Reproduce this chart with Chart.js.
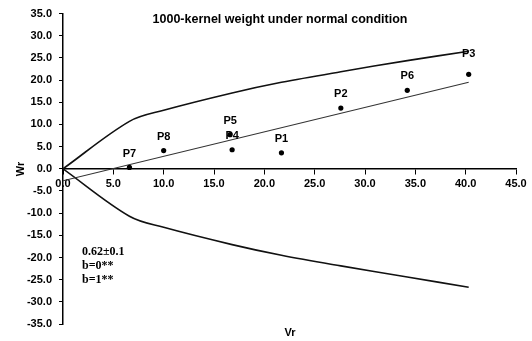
<!DOCTYPE html>
<html>
<head>
<meta charset="utf-8">
<script src="https://cdn.jsdelivr.net/npm/chart.js@4/dist/chart.umd.min.js"></script>
<style>
html,body{margin:0;padding:0;background:#fff;}
#wrap{width:532px;height:341px;position:relative;}
</style>
</head>
<body>
<div id="wrap"><canvas id="c" width="532" height="341"></canvas></div>
<script>
// Parents (points)
const parentNames = ['P1','P2','P3','P4','P5','P6','P7','P8'];
const parentVr    = [21.7, 27.6, 40.3, 16.8, 16.6, 34.2, 6.6, 10.0];
const parentWr    = [3.6, 13.7, 21.3, 4.3, 7.7, 17.7, 0.3, 4.1];

// Regression line
const regVr = [0, 40.3];
const regWr = [-2.7, 19.5];

// Limiting parabola (upper and lower branches)
const parabolaVr    = [0, 6.6, 10.0, 16.8, 21.7, 27.6, 34.2, 40.3];
const parabolaUpper = [0, 10.7, 13.2, 17.1, 19.5, 21.9, 24.4, 26.5];
const parabolaLower = [0, -10.7, -13.2, -17.1, -19.5, -21.9, -24.4, -26.7];

// Axis tick labels
const xTickLabels = ['0.0','5.0','10.0','15.0','20.0','25.0','30.0','35.0','40.0','45.0'];
const yTickLabels = ['-35.0','-30.0','-25.0','-20.0','-15.0','-10.0','-5.0','0.0','5.0','10.0','15.0','20.0','25.0','30.0','35.0'];

const chartTitle = '1000-kernel weight under normal condition';
const xTitle = 'Vr';
const yTitle = 'Wr';
const notes = ['0.62\u00b10.1', 'b=0**', 'b=1**'];

const zip = (xs, ys) => xs.map((x, i) => ({x: x, y: ys[i]}));

const sansBold = 'bold 11px "Liberation Sans", Arial, sans-serif';

const textPlugin = {
  id: 'texts',
  afterDatasetsDraw(chart) {
    const ctx = chart.ctx;
    ctx.save();
    // point labels
    const meta = chart.getDatasetMeta(0);
    ctx.fillStyle = '#000';
    ctx.font = sansBold;
    ctx.textAlign = 'center';
    ctx.textBaseline = 'middle';
    meta.data.forEach((pt, i) => {
      const off = parentNames[i] === 'P3' ? 20 : 14;
      ctx.fillText(parentNames[i], pt.x, pt.y - off);
    });
    // title
    ctx.font = 'bold 12.5px "Liberation Sans", Arial, sans-serif';
    ctx.fillText(chartTitle, 280, 20);
    // axis titles
    ctx.font = sansBold;
    ctx.fillText(xTitle, 290, 333);
    ctx.save();
    ctx.translate(21, 169);
    ctx.rotate(-Math.PI / 2);
    ctx.fillText(yTitle, 0, 0);
    ctx.restore();
    // notes
    ctx.font = 'bold 12px "Liberation Serif", "Times New Roman", serif';
    ctx.textAlign = 'left';
    notes.forEach((t, i) => ctx.fillText(t, 82, 252 + i * 14));
    ctx.restore();
  }
};

new Chart(document.getElementById('c'), {
  type: 'scatter',
  data: {
    datasets: [
      {
        label: 'Parents',
        data: zip(parentVr, parentWr),
        pointRadius: 2.6,
        pointBackgroundColor: '#000',
        pointBorderWidth: 0,
        showLine: false
      },
      {
        label: 'Regression',
        type: 'line',
        data: zip(regVr, regWr),
        borderColor: '#333',
        borderWidth: 1.1,
        pointRadius: 0,
        fill: false
      },
      {
        label: 'Upper',
        type: 'line',
        data: zip(parabolaVr, parabolaUpper),
        borderColor: '#111',
        borderWidth: 1.6,
        pointRadius: 0,
        tension: 0.35,
        fill: false
      },
      {
        label: 'Lower',
        type: 'line',
        data: zip(parabolaVr, parabolaLower),
        borderColor: '#111',
        borderWidth: 1.6,
        pointRadius: 0,
        tension: 0.35,
        fill: false
      }
    ]
  },
  options: {
    responsive: false,
    animation: false,
    events: [],
    layout: { padding: { left: 0, right: 16, top: 13, bottom: 17 } },
    plugins: { legend: { display: false }, tooltip: { enabled: false }, title: { display: false } },
    scales: {
      x: {
        type: 'linear',
        position: { y: 0 },
        min: 0, max: 45,
        ticks: {
          stepSize: 5,
          color: '#000',
          font: { family: '"Liberation Sans", Arial, sans-serif', size: 11, weight: 'bold' },
          padding: 4,
          maxRotation: 0,
          autoSkip: false,
          callback: (v, i) => xTickLabels[i]
        },
        grid: { drawOnChartArea: false, drawTicks: true, tickLength: 5, color: '#000', lineWidth: 1 },
        border: { color: '#000', width: 1.5 }
      },
      y: {
        type: 'linear',
        position: 'left',
        min: -35, max: 35,
        afterFit: (s) => { s.width = 63; },
        ticks: {
          stepSize: 5,
          color: '#000',
          font: { family: '"Liberation Sans", Arial, sans-serif', size: 11, weight: 'bold' },
          padding: 7,
          autoSkip: false,
          callback: (v, i) => yTickLabels[i]
        },
        grid: { drawOnChartArea: false, drawTicks: true, tickLength: 4, color: '#000', lineWidth: 1 },
        border: { color: '#000', width: 1.5 }
      }
    }
  },
  plugins: [textPlugin]
});
</script>
</body>
</html>
